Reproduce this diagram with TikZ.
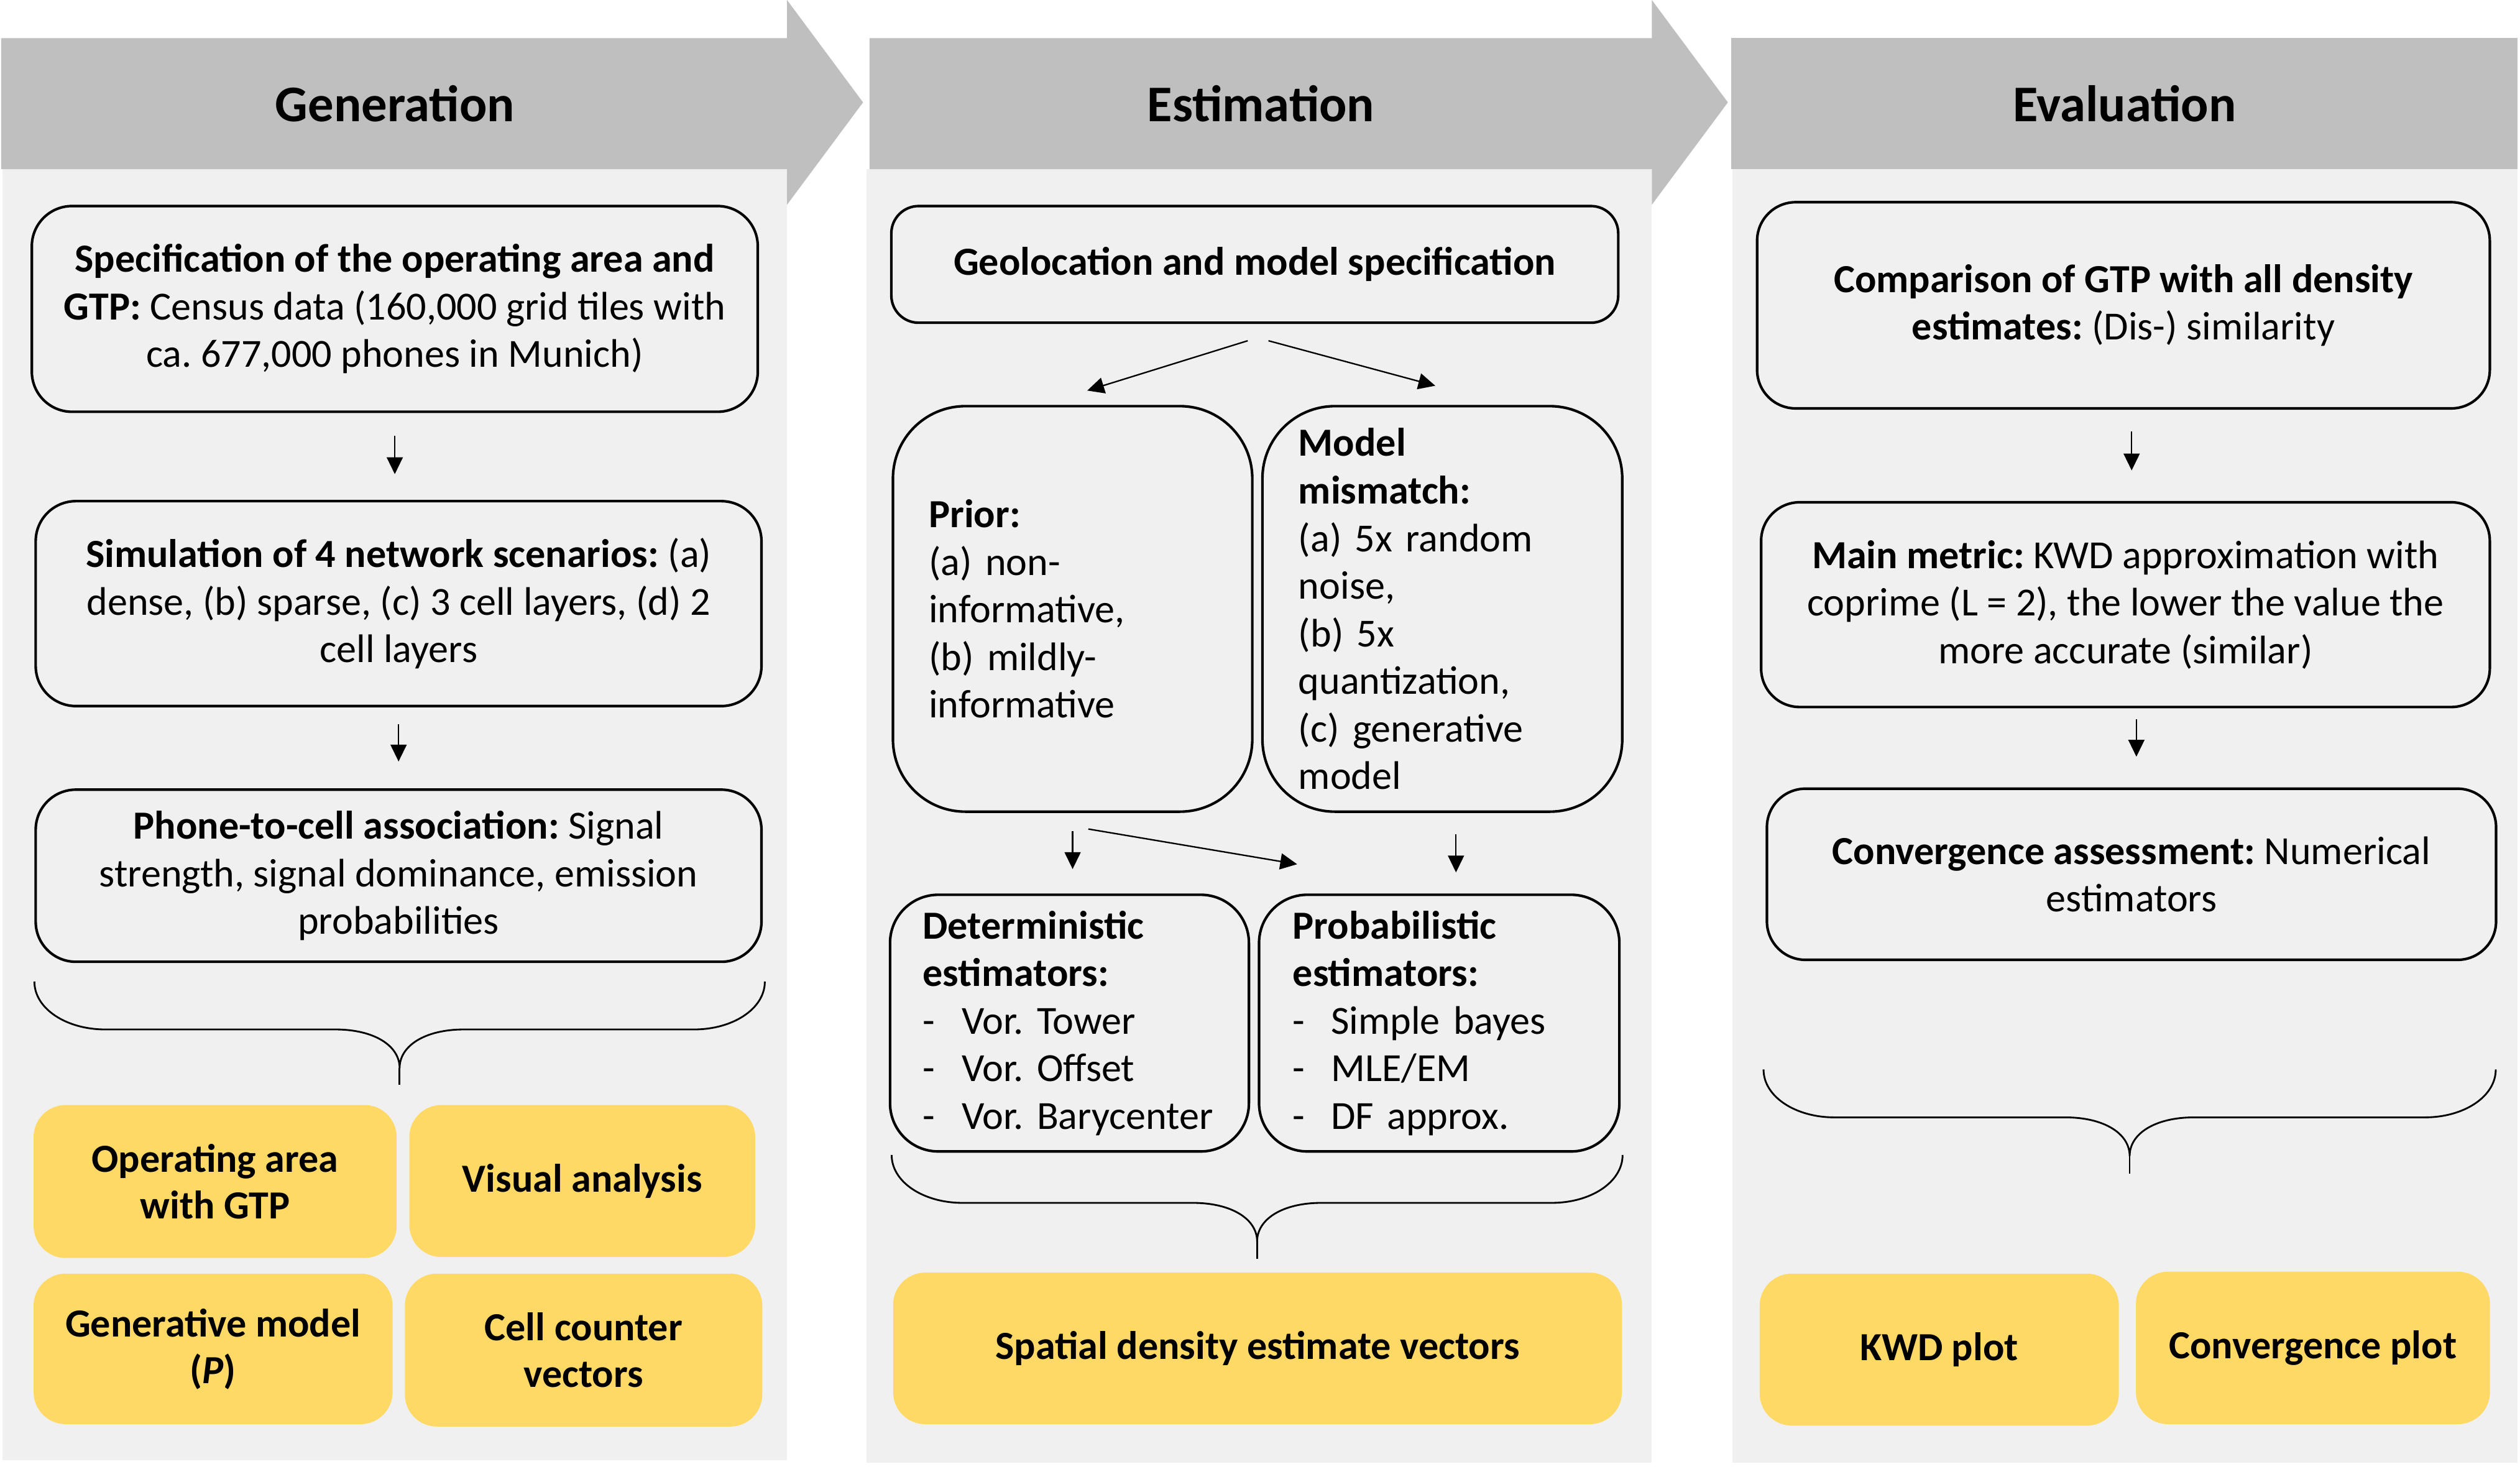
\documentclass[tikz,border=0pt]{standalone}
\usepackage{fontspec}
\setmainfont{Carlito}
\usetikzlibrary{arrows.meta,calc}
\definecolor{hdr}{HTML}{BFBFBF}
\definecolor{pnl}{HTML}{F0F0F0}
\definecolor{gold}{HTML}{FFD966}
\newcommand\bodyfont{\fontsize{24.8}{29.6}\selectfont}
\newcommand\titlefont{\fontsize{32}{36}\selectfont\bfseries}
\newcommand\curlybrace[5]{% x1 x2 ytop yh ytip
  \draw[brc] (#1,#3) .. controls (#1,{#3+17}) and ({#1+20},#4) .. ({#1+44},#4)
    -- ({(#1+#2)/2-40},#4) .. controls ({(#1+#2)/2-16},#4) and ({(#1+#2)/2},{#4+10}) .. ({(#1+#2)/2},{#4+24})
    .. controls ({(#1+#2)/2},{#4+10}) and ({(#1+#2)/2+16},#4) .. ({(#1+#2)/2+40},#4)
    -- ({#2-44},#4) .. controls ({#2-20},#4) and (#2,{#3+17}) .. (#2,#3);
  \draw[brc] ({(#1+#2)/2},{#4+24}) -- ({(#1+#2)/2},#5);
}
\begin{document}
\frenchspacing
\begin{tikzpicture}[x=1pt,y=-1pt,
  box/.style={draw=black, line width=1.6pt, rounded corners=#1, inner sep=0pt,
    align=center, font=\bodyfont, anchor=north west},
  lbox/.style={draw=black, line width=1.6pt, rounded corners=#1, inner ysep=0pt,
    inner xsep=22pt, align=left, font=\bodyfont, anchor=north west},
  ybox/.style={fill=gold, rounded corners=20pt, inner sep=0pt, align=center,
    font={\fontsize{24.8}{29}\selectfont\bfseries}, anchor=north west},
  arr/.style={-{Triangle[length=10.5pt,width=10pt]}, line width=0.9pt},
  brc/.style={line width=1.1pt},
  ttl/.style={font=\titlefont, inner sep=0pt}
]
\useasboundingbox (0,0) rectangle (1568,921.7);
\fill[white] (0,0) rectangle (1568,921.7);

% panels
\fill[pnl] (1.7,105.2) rectangle (489.7,908.7);
\fill[pnl] (539,105.2) rectangle (1027.8,910);
\fill[pnl] (1078,105.2) rectangle (1566.5,910);

% headers
\fill[hdr] (0.7,23.7) -- (489.7,23.7) -- (489.7,0) -- (537,63.7) -- (489.7,127.4) -- (489.7,105.2) -- (0.7,105.2) -- cycle;
\fill[hdr] (541,23.7) -- (1027.8,23.7) -- (1027.8,0) -- (1075.1,63.7) -- (1027.8,127.4) -- (1027.8,105.2) -- (541,105.2) -- cycle;
\fill[hdr] (1077.2,23.7) rectangle (1566.6,105.2);

\node[ttl] (t1) at (245.8,64.5) {Generation};
\node[ttl] (t2) at (784.6,64.5) {Estimation};
\node[ttl] (t3) at (1322,64.5) {Evaluation};

% ---------- Generation ----------
\node[box=25pt, minimum width=451.7pt, minimum height=128pt] (g1) at (19,127.4)
  {\textbf{Specification of the operating area and}\\\textbf{GTP:} Census data (160,000 grid tiles with\\ca. 677,000 phones in Munich)};
\node[box=25pt, minimum width=451.6pt, minimum height=127.5pt] (g2) at (21.4,311)
  {\textbf{Simulation of 4 network scenarios:} (a)\\dense, (b) sparse, (c) 3 cell layers, (d) 2\\cell layers};
\node[box=25pt, minimum width=451.6pt, minimum height=107.1pt] (g3) at (21.4,490.5)
  {\textbf{Phone-to-cell association:} Signal\\strength, signal dominance, emission\\probabilities};
\draw[arr, shorten <=14pt, shorten >=16pt] (g1.south) -- (g1.south |- g2.north);
\draw[arr, shorten <=10.5pt, shorten >=16.7pt] (g2.south) -- (g2.south |- g3.north);

\curlybrace{21.4}{475.9}{610.7}{640.5}{675.1}

\node[ybox, minimum width=225.9pt, minimum height=95.2pt] (y1) at (20.7,687.3) {Operating area\\with GTP};
\node[ybox, minimum width=215.2pt, minimum height=94.6pt] (y2) at (254.5,687.3) {Visual analysis};
\node[ybox, minimum width=223.4pt, minimum height=93.7pt] (y3) at (20.7,792.2) {Generative model\\(\textit{P})};
\node[ybox, minimum width=222.4pt, minimum height=95.2pt] (y4) at (251.7,792.2) {Cell counter\\vectors};

% ---------- Estimation ----------
\node[box=17pt, minimum width=452.3pt, minimum height=72.6pt] (e1) at (553.8,127.4)
  {\textbf{Geolocation and model specification}};
\node[lbox=45pt, minimum width=223.6pt, minimum height=252.3pt, text width=179pt] (prior) at (554.8,251.9)
  {\textbf{Prior:}\\(a) non-\\informative,\\(b) mildly-\\informative};
\node[lbox=45pt, minimum width=223.9pt, minimum height=252.3pt, text width=179pt] (mm) at (784.7,251.9)
  {\textbf{Model}\\\textbf{mismatch:}\\(a) 5x random\\noise,\\(b) 5x\\quantization,\\(c) generative\\model};
\node[lbox=30pt, inner xsep=20.4pt, minimum width=223.3pt, minimum height=159.7pt, text width=182.5pt] (det) at (553,555.9)
  {\textbf{Deterministic}\\\textbf{estimators:}\\\mbox{\makebox[24.2pt][l]{-}Vor. Tower}\\\mbox{\makebox[24.2pt][l]{-}Vor. Offset}\\\mbox{\makebox[24.2pt][l]{-}Vor. Barycenter}};
\node[lbox=30pt, inner xsep=21pt, minimum width=224.2pt, minimum height=159.7pt, text width=182.2pt] (prob) at (782.6,555.9)
  {\textbf{Probabilistic}\\\textbf{estimators:}\\\mbox{\makebox[23.8pt][l]{-}Simple bayes}\\\mbox{\makebox[23.8pt][l]{-}MLE/EM}\\\mbox{\makebox[23.8pt][l]{-}DF approx.}};

\draw[arr] ($(e1.south)+(-4.4,10.4)$) -- ($(prior.north)+(9.1,-8.9)$);
\draw[arr] ($(e1.south)+(8.5,10.4)$) -- ($(mm.north)+(-4.4,-11.9)$);
\draw[arr] ($(prior.south)+(0,11.3)$) -- ($(prior.south |- det.north)+(0,-15.2)$);
\draw[arr] ($(prior.south)+(9.8,10)$) -- ($(prob.north west)+(24.5,-18.2)$);
\draw[arr] ($(mm.south)+(8.5,13.1)$) -- ($(mm.south |- prob.north)+(8.5,-13.1)$);

\curlybrace{554.8}{1009.6}{718.6}{748.4}{783.1}

\node[ybox, minimum width=453.5pt, minimum height=94.3pt] (sd) at (555.5,791.6) {Spatial density estimate vectors};

% ---------- Evaluation ----------
\node[box=24pt, minimum width=455.9pt, minimum height=128.3pt] (v1) at (1092.5,125)
  {\textbf{Comparison of GTP with all density}\\\textbf{estimates:} (Dis-) similarity};
\node[box=24pt, minimum width=453.4pt, minimum height=127.4pt] (v2) at (1095,311.7)
  {\textbf{Main metric:} KWD approximation with\\coprime (L = 2), the lower the value the\\more accurate (similar)};
\node[box=24pt, minimum width=453.7pt, minimum height=106.5pt] (v3) at (1098.6,489.9)
  {\textbf{Convergence assessment:} Numerical\\estimators};
\draw[arr] ($(v1.south)+(5.1,13.4)$) -- ($(v1.south |- v2.north)+(5.1,-19)$);
\draw[arr] ($(v2.south)+(6.8,6.8)$) -- ($(v2.south |- v3.north)+(6.8,-19.1)$);

\curlybrace{1097.3}{1552.9}{665.4}{695.2}{730.2}

\node[ybox, minimum width=223.5pt, minimum height=94.6pt] (kwd) at (1094.7,792.2) {KWD plot};
\node[ybox, minimum width=220.3pt, minimum height=94.9pt] (cp) at (1328.8,791) {Convergence plot};
\end{tikzpicture}
\end{document}
